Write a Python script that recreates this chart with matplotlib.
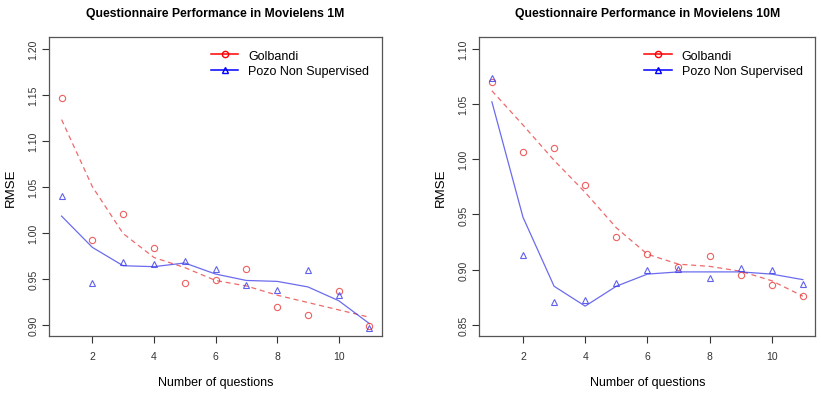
import matplotlib
matplotlib.use("Agg")
import matplotlib.pyplot as plt
from matplotlib.lines import Line2D

plt.rcParams['font.family'] = ['Liberation Sans', 'DejaVu Sans']

questions = list(range(1, 12))

# Movielens 1M
gol_1m = [1.147, 0.992, 1.020, 0.983, 0.945, 0.948, 0.960, 0.919, 0.910, 0.937, 0.898]
pozo_1m = [1.040, 0.945, 0.968, 0.966, 0.969, 0.960, 0.943, 0.938, 0.959, 0.932, 0.896]
gol_1m_smooth = [1.123, 1.050, 0.999, 0.973, 0.962, 0.948, 0.942, 0.932, 0.924, 0.916, 0.908]
pozo_1m_smooth = [1.018, 0.984, 0.964, 0.963, 0.967, 0.955, 0.948, 0.947, 0.941, 0.926, 0.901]

# Movielens 10M
gol_10m = [1.070, 1.007, 1.010, 0.977, 0.930, 0.914, 0.902, 0.912, 0.895, 0.886, 0.876]
pozo_10m = [1.074, 0.913, 0.8705, 0.873, 0.888, 0.900, 0.9007, 0.8925, 0.9016, 0.900, 0.887]
gol_10m_smooth = [1.062, 1.031, 0.999, 0.970, 0.938, 0.914, 0.905, 0.903, 0.8986, 0.890, 0.876]
pozo_10m_smooth = [1.052, 0.9475, 0.885, 0.867, 0.885, 0.896, 0.898, 0.898, 0.898, 0.896, 0.891]

titles = ['Questionnaire Performance in Movielens 1M',
          'Questionnaire Performance in Movielens 10M']
yticks = [[0.90, 0.95, 1.00, 1.05, 1.10, 1.15, 1.20],
          [0.85, 0.90, 0.95, 1.00, 1.05, 1.10]]
ylims = [(0.888, 1.2127), (0.8403, 1.1106)]

RED = '#e8393a'
BLUE = '#3a3ae8'
BOX = '#555555'

fig = plt.figure(figsize=(8.21, 4.10), dpi=100)
axes = [fig.add_axes([0.060, 0.179, 0.405, 0.728]),
        fig.add_axes([0.584, 0.179, 0.409, 0.728])]

panels = [(gol_1m, pozo_1m, gol_1m_smooth, pozo_1m_smooth),
          (gol_10m, pozo_10m, gol_10m_smooth, pozo_10m_smooth)]

for i, ax in enumerate(axes):
    g, p, gs, ps = panels[i]
    ax.plot(questions, gs, color=RED, ls=(0, (4, 3)), lw=0.9, alpha=0.75)
    ax.plot(questions, ps, color=BLUE, ls='-', lw=0.9, alpha=0.75)
    ax.plot(questions, g, ls='none', marker='o', ms=4.5, mfc='none',
            mec=RED, mew=0.8, alpha=0.8)
    ax.plot(questions, p, ls='none', marker='^', ms=5, mfc='none',
            mec=BLUE, mew=0.8, alpha=0.8)

    ax.set_xlim(0.6, 11.4)
    ax.set_ylim(*ylims[i])
    ax.set_xticks([2, 4, 6, 8, 10])
    ax.set_yticks(yticks[i])
    ax.set_yticklabels(['%.2f' % v for v in yticks[i]], rotation=90, va='center')
    ax.tick_params(labelsize=7.5, colors='#333333', length=5, width=0.8,
                   direction='out')
    ax.tick_params(axis='x', pad=6)
    ax.tick_params(axis='y', pad=3)
    for s in ax.spines.values():
        s.set_color(BOX)
        s.set_linewidth(0.9)

    ax.set_title(titles[i], fontsize=8.8, fontweight='bold', pad=15)
    ax.set_xlabel('Number of questions', fontsize=9, labelpad=11)
    ax.set_ylabel('RMSE', fontsize=9.5, labelpad=8)

    handles = [Line2D([], [], color='red', marker='o', mfc='none', lw=1.1, ms=4.5),
               Line2D([], [], color='blue', marker='^', mfc='none', lw=1.1, ms=5)]
    ax.legend(handles, ['Golbandi', 'Pozo Non Supervised'], loc='upper right',
              frameon=False, fontsize=9, handlelength=2.2, borderaxespad=0.6,
              labelspacing=0.3, handletextpad=0.8)

fig.savefig('out.png', dpi=100)
